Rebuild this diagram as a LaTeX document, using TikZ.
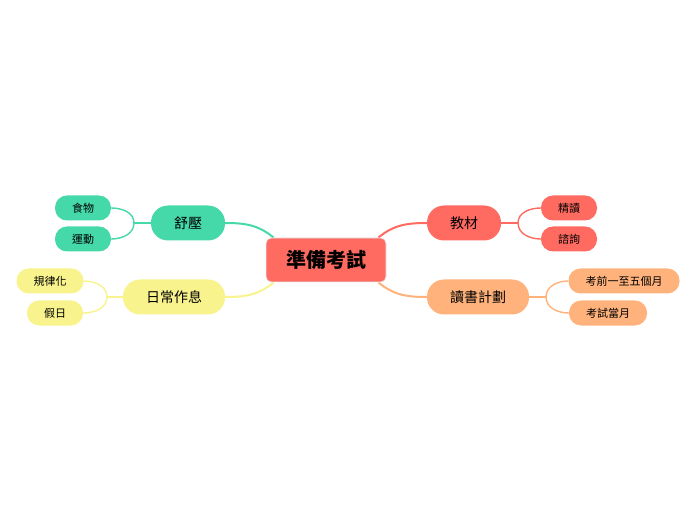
\documentclass[tikz,border=0pt]{standalone}
\usepackage{fontspec}
\setmainfont{Noto Sans CJK TC}
\usepackage{tikz}
\usetikzlibrary{positioning,calc,backgrounds}
\usepackage{xcolor}

\definecolor{rootred}{HTML}{FF6A61}
\definecolor{mintgreen}{HTML}{45D8A8}
\definecolor{softyellow}{HTML}{F8F38D}
\definecolor{peach}{HTML}{FFB27B}

\begin{document}
\begin{tikzpicture}[x=1pt, y=1pt,
  root/.style={rectangle, rounded corners=5pt, draw=black!8, line width=0.8pt,
    fill=rootred, minimum height=44pt, inner xsep=20pt,
    font=\fontsize{20}{22}\selectfont\bfseries},
  branch/.style={rectangle, rounded corners=17pt, fill=#1,
    minimum height=35pt, inner xsep=23pt, inner ysep=0pt,
    font=\fontsize{14}{16}\selectfont},
  leaf/.style={rectangle, rounded corners=12pt, fill=#1,
    minimum height=25pt, inner xsep=17pt, inner ysep=0pt,
    font=\fontsize{11}{13}\selectfont},
  mainline/.style={draw=#1, line width=2pt},
  subline/.style={draw=#1, line width=1.4pt},
]
  \useasboundingbox (0,0) rectangle (696,520);

  % === Root ===
  \node[root] (root) at (326,260) {準備考試};

  % === Right branches ===
  \node[branch=rootred] (jiaocai) at (464,297) {教材};
  \node[leaf=rootred]   (jingdu)  at (569,312) {精讀};
  \node[leaf=rootred]   (zixun)   at (569,281) {諮詢};

  \node[branch=peach] (dushu)   at (478,223) {讀書計劃};
  \node[leaf=peach]   (kaoqian) at (624,239) {考前一至五個月};
  \node[leaf=peach]   (kaoshi)  at (608,207) {考試當月};

  % === Left branches ===
  \node[branch=mintgreen] (shuya)   at (188,297) {舒壓};
  \node[leaf=mintgreen]   (shiwu)   at (83,312) {食物};
  \node[leaf=mintgreen]   (yundong) at (83,281) {運動};

  \node[branch=softyellow] (zuoxi) at (174,223) {日常作息};
  \node[leaf=softyellow]   (guilv) at (50,239) {規律化};
  \node[leaf=softyellow]   (jiari) at (55,207) {假日};

  % === Fork points ===
  \coordinate (jcfork) at (518,297);
  \coordinate (dsfork) at (546,223);
  \coordinate (syfork) at (134,297);
  \coordinate (zxfork) at (107,223);

  \begin{scope}[on background layer]
  % === Main connectors ===
  \draw[mainline=rootred] ([xshift=-8pt]root.north east) to[out=40, in=180] (jiaocai.west);
  \draw[mainline=peach] ([xshift=-8pt]root.south east) to[out=-40, in=180] (dushu.west);
  \draw[mainline=mintgreen] ([xshift=8pt]root.north west) to[out=140, in=0] (shuya.east);
  \draw[mainline=softyellow] ([xshift=8pt]root.south west) to[out=-140, in=0] (zuoxi.east);

  % === Sub connectors ===
  \draw[subline=rootred] (jiaocai.east) -- (jcfork);
  \draw[subline=rootred] (jcfork) to[out=90, in=180] (jingdu.west);
  \draw[subline=rootred] (jcfork) to[out=-90, in=180] (zixun.west);

  \draw[subline=peach] (dushu.east) -- (dsfork);
  \draw[subline=peach] (dsfork) to[out=90, in=180] (kaoqian.west);
  \draw[subline=peach] (dsfork) to[out=-90, in=180] (kaoshi.west);

  \draw[subline=mintgreen] (shuya.west) -- (syfork);
  \draw[subline=mintgreen] (syfork) to[out=90, in=0] (shiwu.east);
  \draw[subline=mintgreen] (syfork) to[out=-90, in=0] (yundong.east);

  \draw[subline=softyellow] (zuoxi.west) -- (zxfork);
  \draw[subline=softyellow] (zxfork) to[out=90, in=0] (guilv.east);
  \draw[subline=softyellow] (zxfork) to[out=-90, in=0] (jiari.east);
  \end{scope}
\end{tikzpicture}
\end{document}
